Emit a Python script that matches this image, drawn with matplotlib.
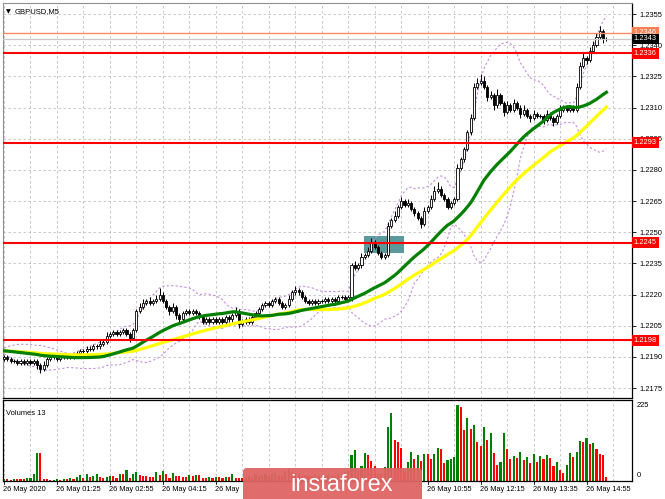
import numpy as np
import pandas as pd
import matplotlib
matplotlib.use('Agg')
import matplotlib.pyplot as plt
import matplotlib.transforms as mtransforms
from matplotlib.patches import Rectangle, FancyBboxPatch


# --- data (GBPUSD M5, 26 May 2020) ---
first_open = 1.2189
closes = [
    1.2190, 1.2189, 1.2188, 1.2188, 1.2187, 1.2188, 1.2187, 1.2188, 1.2187, 1.2188, 1.2186, 1.2184, 1.2186,
    1.2189, 1.2190, 1.2190, 1.2189, 1.2190, 1.2191, 1.2190, 1.2190, 1.2191,
    1.2192, 1.2193, 1.2193, 1.2194, 1.2194, 1.2195, 1.2195, 1.2196,
    1.2197, 1.2200, 1.2201, 1.2202, 1.2201, 1.2202, 1.2203, 1.2201, 1.2199,
    1.2203, 1.2212, 1.2214,
    1.2216, 1.2217, 1.2216, 1.2217, 1.2218, 1.2220,
    1.2217, 1.2214, 1.2212, 1.2214, 1.2210, 1.2208, 1.2211, 1.2212, 1.2211, 1.2212, 1.2211,
    1.2209, 1.2207, 1.2208, 1.2207, 1.2208, 1.2207, 1.2208, 1.2207, 1.2209, 1.2208, 1.2210, 1.2212, 1.2206,
    1.2207, 1.2208, 1.2207, 1.2209,
    1.2211, 1.2213, 1.2215, 1.2216, 1.2215, 1.2217, 1.2218, 1.2216, 1.2214, 1.2215, 1.2218, 1.2221, 1.2222,
    1.2221, 1.2219, 1.2217, 1.2216, 1.2217, 1.2216, 1.2217, 1.2217, 1.2218, 1.2217, 1.2218, 1.2217, 1.2219,
    1.2219, 1.2218, 1.2219,
    1.2234, 1.2233, 1.2234, 1.2238, 1.2239, 1.2241, 1.2245, 1.2243, 1.2240, 1.2238, 1.2239, 1.2253, 1.2256,
    1.2258, 1.2262, 1.2265, 1.2263, 1.2264, 1.2261, 1.2259, 1.2257, 1.2254, 1.2260, 1.2262, 1.2266, 1.2270,
    1.2271, 1.2268, 1.2266, 1.2262, 1.2264, 1.2266, 1.2281, 1.2285, 1.2290, 1.2298,
    1.2305, 1.2320, 1.2322, 1.2323, 1.2320, 1.2315, 1.2316, 1.2311, 1.2316, 1.2312, 1.2308, 1.2311, 1.2309,
    1.2312, 1.2310, 1.2307, 1.2309, 1.2306, 1.2305, 1.2307, 1.2306, 1.2306, 1.2304, 1.2307, 1.2305, 1.2303,
    1.2306, 1.2309, 1.2310, 1.2309, 1.2310, 1.2309, 1.2320, 1.2330, 1.2334, 1.2333, 1.2337, 1.2340, 1.2344,
    1.2347, 1.2343, 1.2343,
]
# wicks in pips above / below the candle body
upper_wick = [
    1, 1, 1, 1, 1, 1, 1, 1, 1, 1, 1, 1, 2,
    1, 1, 1, 1, 1, 1, 1, 1, 1,
    1, 1, 1, 1, 1, 1, 1, 2,
    1, 2, 1, 1, 1, 1, 1, 1, 1,
    1, 1, 2,
    2, 1, 2, 1, 2, 3,
    1, 1, 1, 2, 1, 1, 1, 1, 1, 1, 1,
    1, 1, 1, 1, 1, 1, 1, 1, 1, 1, 1, 2, 1, 1, 1, 1, 1,
    1, 1, 1, 1, 1, 1, 1, 1, 1, 1, 2, 1, 2, 1, 1, 1, 1, 1, 1, 1, 1, 1, 1, 1, 1, 1, 1, 1, 1,
    1, 2, 1, 2, 1, 2, 2, 1, 1, 1, 1, 2, 1, 2, 1, 2, 1, 2, 1, 1, 1, 1, 2, 1, 2, 2, 3, 1, 1, 1,
    1, 1, 2, 1, 1, 1,
    2, 2, 2, 3, 2, 1, 2, 1, 3, 1, 1, 2, 1, 2, 1, 1, 2, 1, 1, 2, 1, 1, 1, 2, 1, 1, 1, 2, 1, 1,
    1, 1, 2, 2, 2, 1, 2, 2, 2, 2, 1, 1,
]
lower_wick = [
    1, 1, 1, 1, 1, 1, 1, 1, 1, 1, 2, 2, 1,
    1, 1, 1, 1, 1, 1, 1, 1, 1,
    1, 1, 1, 1, 1, 1, 1, 1,
    1, 1, 1, 1, 1, 1, 1, 1, 2,
    1, 1, 1,
    1, 1, 1, 1, 1, 1,
    1, 1, 2, 1, 2, 2, 1, 1, 1, 1, 1,
    1, 1, 1, 1, 1, 1, 1, 1, 1, 1, 1, 1, 2, 1, 1, 1, 1,
    1, 1, 1, 1, 1, 1, 1, 1, 1, 1, 1, 1, 1, 1, 1, 1, 1, 1, 1, 1, 1, 1, 1, 1, 1, 1, 1, 1, 1,
    2, 1, 1, 1, 1, 1, 1, 1, 1, 1, 1, 1, 1, 1, 1, 1, 1, 1, 1, 1, 1, 2, 1, 1, 1, 1, 1, 1, 1, 1,
    1, 1, 1, 1, 1, 1,
    1, 1, 1, 1, 1, 2, 1, 2, 1, 1, 2, 1, 1, 1, 1, 2, 1, 1, 2, 1, 1, 1, 2, 1, 1, 2, 1, 1, 1, 1,
    1, 1, 1, 1, 1, 2, 1, 1, 1, 1, 2, 1,
]
volumes = [
    6, 6, 3, 6, 6, 6, 6, 8, 9, 20, 84, 84, 6, 6, 2, 4, 6, 3, 6, 5, 8, 6,
    12, 17, 10, 20, 13, 15, 20, 12, 10, 12, 14, 14, 8, 20, 20, 32, 10, 22,
    27, 17, 14, 14, 12, 12, 27, 17, 30, 22, 10, 24, 14, 14, 12, 12, 17, 14, 17, 17,
    10, 10, 12, 8, 12, 12, 10, 12, 12, 20, 10, 10, 10,
    10, 14, 10, 20, 16, 18, 22, 15, 20, 25, 18, 14, 30, 35, 28, 24, 20, 15, 18, 14,
    16, 18, 14, 12, 15, 18, 16, 14, 20, 18, 26, 30,
    77, 92, 30, 44, 85, 77, 59, 44, 20, 20, 42, 162, 204, 122, 117, 100, 30, 57, 87, 65,
    77, 60, 80, 80, 67, 82, 100, 97, 54, 62, 67, 72, 227, 220, 152, 187, 154, 167, 117, 104,
    160, 122, 142, 84, 47, 57, 144, 97, 67, 74, 70, 87, 64, 72, 54, 82, 57, 74, 67, 77,
    70, 44, 57, 34, 24, 47, 84, 72, 87, 120, 117, 129, 110, 114, 95, 80, 77, 12,
]
ma_seed = 1.2193   # where the averages enter the visible window

price_ticks = [1.2175, 1.2190, 1.2205, 1.2220, 1.2235, 1.2250, 1.2265,
               1.2280, 1.2295, 1.2310, 1.2325, 1.2340, 1.2355]
red_levels = [1.2336, 1.2293, 1.2245, 1.2198]
top_level = 1.2346
last_price = 1.2343
zone_bars = (108.7, 120.8)
zone_prices = (1.2240, 1.2248)
# time axis labels, one every 16 bars (the ones under the watermark are cut off)
time_labels = {0: '26 May 2020', 16: '26 May 01:25', 32: '26 May 02:55', 48: '26 May 04:15',
               64: '26 May', 128: '26 May 10:55', 144: '26 May 12:15', 160: '26 May 13:35',
               176: '26 May 14:55'}

assert len(closes) == len(upper_wick) == len(lower_wick) == len(volumes)

pip = 0.0001
n = len(closes)
idx = np.arange(n)
c = np.array(closes)
o = np.concatenate([[first_open], c[:-1]])
hi = np.maximum(o, c) + np.array(upper_wick) * pip
lo = np.minimum(o, c) - np.array(lower_wick) * pip


def sma(period):
    s = pd.Series([ma_seed] * (period - 1) + closes)
    return s.rolling(period).mean().to_numpy()[period - 1:]


def bollinger(period=20, k=2.0):
    s = pd.Series([ma_seed] * (period - 1) + closes)
    m = s.rolling(period).mean()
    sd = s.rolling(period).std(ddof=0)
    return (m + k * sd).to_numpy()[period - 1:], (m - k * sd).to_numpy()[period - 1:]


plt.rcParams['font.family'] = ['Liberation Sans', 'DejaVu Sans']
W, H = 665, 499
fig = plt.figure(figsize=(W / 100, H / 100), dpi=100)
fig.patch.set_facecolor('white')

ax = fig.add_axes([3 / W, 1 - 398 / H, 629 / W, 395 / H])
vax = fig.add_axes([3 / W, 1 - 481 / H, 629 / W, 81 / H])

xmin = -0.3
xmax = xmin + 629 / 3.31
grid_x = np.arange(0, 190, 8)
dash = (0, (3, 3))

# main price panel
ax.set_xlim(xmin, xmax)
ax.set_ylim(1.21702, 1.23603)
for gx in grid_x:
    ax.axvline(gx, color='#c0c0c0', lw=0.6, ls=dash, zorder=0)
for gy in price_ticks:
    ax.axhline(gy, color='#c0c0c0', lw=0.6, ls=dash, zorder=0)

ax.add_patch(Rectangle((zone_bars[0], zone_prices[0]), zone_bars[1] - zone_bars[0],
                       zone_prices[1] - zone_prices[0], fc='#5a9a9c', ec='none', zorder=1))

up, dn = bollinger()
ax.plot(idx, up, color='#c58be0', lw=0.8, ls=(0, (2, 2)), zorder=2)
ax.plot(idx, dn, color='#c58be0', lw=0.8, ls=(0, (2, 2)), zorder=2)

for i in range(n):
    ax.plot([i, i], [lo[i], hi[i]], color='black', lw=0.7, zorder=3, solid_capstyle='butt')
    body = abs(c[i] - o[i])
    if body < 1e-9:
        ax.plot([i - 0.32, i + 0.32], [c[i], c[i]], color='black', lw=0.7, zorder=4)
    else:
        fc = 'white' if c[i] > o[i] else 'black'
        ax.add_patch(Rectangle((i - 0.32, min(o[i], c[i])), 0.64, body,
                               fc=fc, ec='black', lw=0.6, zorder=4))

ax.plot(idx, sma(50), color='#ffff00', lw=2.3, zorder=5)
ax.plot(idx, sma(30), color='#008000', lw=2.3, zorder=6)

for lvl in red_levels:
    ax.axhline(lvl, color='#ff0000', lw=1.5, zorder=7)
ax.axhline(top_level, color='#ff8a65', lw=1.0, zorder=7)
ax.axhline(last_price, color='#c8c8c8', lw=0.9, zorder=7)

ax.set_xticks([])
ax.yaxis.tick_right()
ax.set_yticks(price_ticks)
ax.set_yticklabels(['%.4f' % t for t in price_ticks])
ax.tick_params(axis='y', direction='out', length=3, width=0.6, pad=2,
               labelsize=5.4, colors='black')
for side in ['left', 'top']:
    ax.spines[side].set_color('#909090')
    ax.spines[side].set_linewidth(0.8)
for side in ['right', 'bottom']:
    ax.spines[side].set_color('black')
    ax.spines[side].set_linewidth(0.9)

ytrans = mtransforms.blended_transform_factory(ax.transAxes, ax.transData)


def price_box(val, face, zo):
    ax.text(1.003, val, '%.4f' % val, transform=ytrans, ha='left', va='center',
            fontsize=5.4, color='white', zorder=zo, clip_on=False,
            bbox=dict(boxstyle='square,pad=0.25', fc=face, ec='none'))


price_box(top_level, '#ff7f50', 8)
price_box(last_price, 'black', 9)
for lvl in red_levels:
    price_box(lvl, '#ff0000', 10)

ax.text(0.004, 0.985, '\u25bc', transform=ax.transAxes, fontsize=4.5,
        ha='left', va='top', family='DejaVu Sans')
ax.text(0.019, 0.988, 'GBPUSD,M5', transform=ax.transAxes, fontsize=5.5,
        ha='left', va='top')

# volume panel
vax.set_xlim(xmin, xmax)
vax.set_ylim(0, 242)
for gx in grid_x:
    vax.axvline(gx, color='#c0c0c0', lw=0.6, ls=dash, zorder=0)
vol = np.array(volumes)
vcol = ['#008000' if i == 0 or vol[i] > vol[i - 1] else '#ff0000' for i in range(n)]
vax.bar(idx, vol, width=0.64, color=vcol, zorder=2)
vax.set_xticks([])
vax.set_yticks([])
for side in vax.spines:
    vax.spines[side].set_color('black')
    vax.spines[side].set_linewidth(0.9)
vax.text(0.004, 0.88, 'Volumes 13', transform=vax.transAxes, fontsize=5.4,
         ha='left', va='top')
vtrans = mtransforms.blended_transform_factory(vax.transAxes, vax.transData)
vax.text(1.008, 225, '225', transform=vtrans, fontsize=5.4, ha='left', va='center')
vax.text(1.008, 15, '0', transform=vtrans, fontsize=5.4, ha='left', va='center')

xtrans = mtransforms.blended_transform_factory(vax.transData, vax.transAxes)
for pos, lab in time_labels.items():
    vax.plot([pos, pos], [0, -0.04], transform=xtrans, color='black',
             lw=0.6, clip_on=False)
    vax.text(pos - 0.3, -0.06, lab, transform=xtrans, fontsize=5.3,
             ha='left', va='top')

# watermark
wax = fig.add_axes([243 / W, 0, 179 / W, 32 / H])
wax.set_xlim(0, 179)
wax.set_ylim(0, 32)
wax.axis('off')
wax.add_patch(FancyBboxPatch((0, -6), 179, 37, boxstyle='round,pad=0,rounding_size=4',
                             fc='#e06464', ec='none', alpha=0.95))
wax.text(47, 14, 'instaforex', fontsize=17, color='white', ha='left', va='center',
         family=['Liberation Sans Narrow', 'Liberation Sans'])

fig.savefig('out.png', dpi=100)
